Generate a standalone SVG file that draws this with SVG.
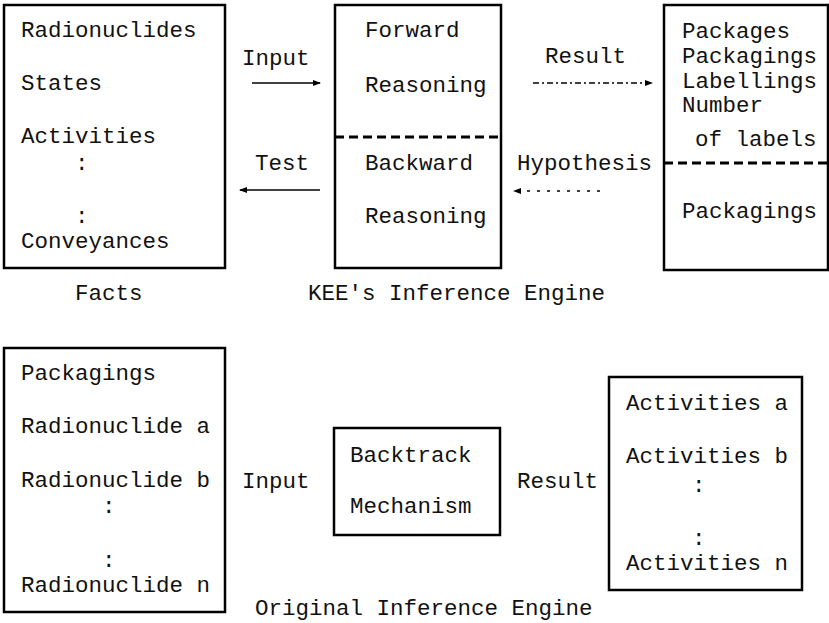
<svg xmlns="http://www.w3.org/2000/svg" width="829" height="623" viewBox="0 0 829 623">
<style>
  text { font-family: "Liberation Mono", "Courier New", monospace; font-size: 22.5px; fill: #111; }
  .box { fill: #fff; stroke: #000; stroke-width: 2.5; }
  .div { stroke: #000; stroke-width: 3; stroke-dasharray: 9 5; }
  .arr { stroke: #000; stroke-width: 1.3; fill: none; }
  .dash { stroke: #000; stroke-width: 1.3; fill: none; stroke-dasharray: 6 3 2 3; }
  .dot { stroke: #000; stroke-width: 1.3; fill: none; stroke-dasharray: 3 7; }
</style>
<defs>
  <marker id="ah" markerWidth="8" markerHeight="6" refX="7" refY="3" orient="auto" markerUnits="userSpaceOnUse">
    <path d="M0,0 L8,3 L0,6 Z" fill="#000"/>
  </marker>
</defs>
<rect width="829" height="623" fill="#fff"/>

<g id="facts">
  <rect class="box" x="4" y="5" width="221" height="263"/>
  <text x="21" y="37">Radionuclides</text>
  <text x="21" y="90">States</text>
  <text x="21" y="143">Activities</text>
  <text x="75" y="170">:</text>
  <text x="75" y="223">:</text>
  <text x="21" y="248">Conveyances</text>
  <text x="75" y="300">Facts</text>
</g>

<g id="kee">
  <rect class="box" x="335" y="5" width="166" height="263"/>
  <line class="div" x1="335" y1="137" x2="501" y2="137"/>
  <text x="365" y="37">Forward</text>
  <text x="365" y="92">Reasoning</text>
  <text x="365" y="170">Backward</text>
  <text x="365" y="223">Reasoning</text>
  <text x="308" y="300">KEE's Inference Engine</text>
</g>

<g id="results">
  <rect class="box" x="664" y="5" width="164" height="265"/>
  <line class="div" x1="664" y1="163" x2="828" y2="163"/>
  <text x="682" y="38">Packages</text>
  <text x="682" y="63">Packagings</text>
  <text x="682" y="88">Labellings</text>
  <text x="682" y="112">Number</text>
  <text x="695" y="146">of labels</text>
  <text x="682" y="218">Packagings</text>
</g>

<g id="inputs">
  <rect class="box" x="4" y="348" width="221" height="264"/>
  <text x="21" y="380">Packagings</text>
  <text x="21" y="433">Radionuclide a</text>
  <text x="21" y="487">Radionuclide b</text>
  <text x="102" y="513">:</text>
  <text x="102" y="567">:</text>
  <text x="21" y="592">Radionuclide n</text>
</g>

<g id="backtrack">
  <rect class="box" x="334" y="428" width="166" height="107"/>
  <text x="350" y="462">Backtrack</text>
  <text x="350" y="513">Mechanism</text>
  <text x="255" y="615">Original Inference Engine</text>
</g>

<g id="activities">
  <rect class="box" x="609" y="377" width="193" height="213"/>
  <text x="626" y="410">Activities a</text>
  <text x="626" y="463">Activities b</text>
  <text x="692" y="492">:</text>
  <text x="692" y="545">:</text>
  <text x="626" y="570">Activities n</text>
</g>

<g id="connectors">
  <line class="arr" x1="252" y1="83" x2="320" y2="83" marker-end="url(#ah)"/>
  <text x="242" y="65">Input</text>
  <line class="arr" x1="320" y1="190" x2="240" y2="190" marker-end="url(#ah)"/>
  <text x="255" y="170">Test</text>
  <line class="dash" x1="533" y1="83" x2="652" y2="83" marker-end="url(#ah)"/>
  <text x="545" y="63">Result</text>
  <line class="dot" x1="600" y1="191" x2="514" y2="191" marker-end="url(#ah)"/>
  <text x="517" y="170">Hypothesis</text>
  <text x="242" y="488">Input</text>
  <text x="517" y="488">Result</text>
</g>
</svg>
